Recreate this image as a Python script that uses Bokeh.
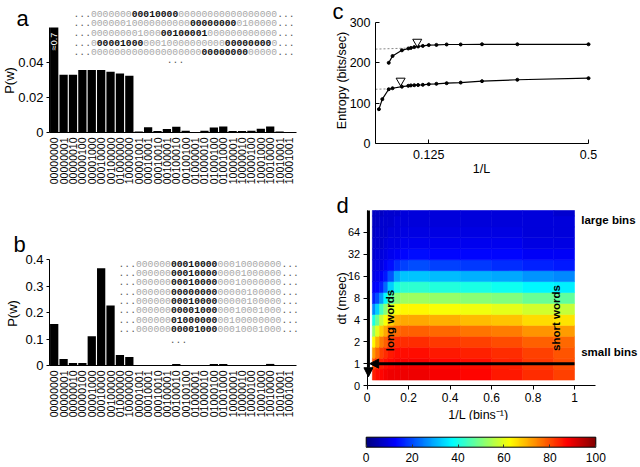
import math
import numpy as np
from bokeh.plotting import figure
from bokeh.layouts import row, column
from bokeh.models import (Range1d, FixedTicker, Label, Arrow, NormalHead,
                          LinearColorMapper, CustomJSTickFormatter, ColumnDataSource)
from bokeh.embed import file_html
from bokeh.resources import INLINE

FONT = "Liberation Sans"
MONO = "Liberation Mono"

# ---------------- data ----------------
words = ["00000000", "00000001", "00000010", "00000100", "00001000",
         "00010000", "00100000", "01000000", "10000000", "00001001",
         "00010001", "00010010", "00100001", "00100010", "00100100",
         "01000001", "01000010", "01000100", "01001000", "10000001",
         "10000010", "10000100", "10001000", "10010000", "10010001",
         "10001001"]
pw_a = [0.70, 0.0330, 0.0330, 0.0357, 0.0357, 0.0357, 0.0347, 0.0337, 0.0324,
        0.0006, 0.0030, 0.0008, 0.0020, 0.0033, 0.0010, 0.0001, 0.0010, 0.0029,
        0.0034, 0.0009, 0.0009, 0.0010, 0.0022, 0.0034, 0.0006, 0.0001]
pw_b = [0.157, 0.025, 0.009, 0.009, 0.110, 0.367, 0.226, 0.040, 0.032,
        0.0, 0.0, 0.0, 0.0, 0.006, 0.0, 0.0, 0.0, 0.006,
        0.006, 0.0, 0.0, 0.0, 0.0, 0.006, 0.0, 0.0]
pw_a_axis_top = 0.06
pw_a_break_label = "\u22480.7"

# spike-train rows: (text, highlighted)
spikes_a = [
    [("0000000", 0), ("00010000", 1), ("00000000000000000", 0)],
    [("00000010000000000", 0), ("00000000", 1), ("0100000", 0)],
    [("000000001000", 0), ("00100001", 1), ("000000000000", 0)],
    [("0", 0), ("00001000", 1), ("00010000000000", 0), ("00000000", 1), ("0", 0)],
    [("0000000000000000000", 0), ("00000000", 1), ("00000", 0)],
]
spikes_b = [
    [("000000", 0), ("00010000", 1), ("00010000000", 0)],
    [("000000", 0), ("00010000", 1), ("00001000000", 0)],
    [("000000", 0), ("00010000", 1), ("00010000000", 0)],
    [("000000", 0), ("00000000", 1), ("00000100000", 0)],
    [("000000", 0), ("00010000", 1), ("00000100000", 0)],
    [("000000", 0), ("00001000", 1), ("00010001000", 0)],
    [("000000", 0), ("01000000", 1), ("00100000000", 0)],
    [("000000", 0), ("00001000", 1), ("00010001000", 0)],
]

# panel c: entropy vs 1/L
invL_upper = [0.031, 0.040, 0.062, 0.077, 0.083, 0.091, 0.100, 0.111, 0.125,
              0.143, 0.167, 0.200, 0.250, 0.333, 0.500]
H_upper = [200, 217, 231, 235.5, 237, 239, 240.5, 242, 244,
           244.5, 245.5, 245.5, 246, 246, 246]
invL_lower = [0.008, 0.016, 0.031, 0.040, 0.062, 0.077, 0.083, 0.091, 0.100,
              0.111, 0.125, 0.143, 0.167, 0.200, 0.250, 0.333, 0.500]
H_lower = [85, 110, 134.5, 137, 141, 143, 144, 144.5, 145,
           145.5, 147, 148, 149.5, 151, 154.5, 158, 162]
extrap_upper_x = [0.0, 0.075]
extrap_upper_H = [234, 236.5]
extrap_lower_x = [0.0, 0.032]
extrap_lower_H = [134.5, 135.5]
marker_invL = [0.098, 0.059]
marker_H = [252, 155.5]

# panel d: information map, columns in 1/L, rows in log2(dt/msec)
col_left = [0.025, 0.04, 0.06, 0.08, 0.10, 0.13, 0.16, 0.20, 0.30, 0.45, 0.60, 0.75, 0.90]
col_right = [0.04, 0.06, 0.08, 0.10, 0.13, 0.16, 0.20, 0.30, 0.45, 0.60, 0.75, 0.90, 1.00]
log2dt_rows = [-0.5, 0.0, 0.5, 1.0, 1.5, 2.0, 2.5, 3.0, 3.5, 4.0, 4.5, 5.0, 5.5, 6.0, 6.5, 7.0]
info_cols = [
    [84, 80, 72, 63, 52, 40, 26, 16, 12, 10, 9, 8, 8, 7, 7, 7],
    [86, 83, 77, 70, 60, 48, 33, 20, 13, 11, 10, 9, 8, 8, 7, 7],
    [87, 85, 81, 75, 67, 57, 44, 28, 16, 12, 10, 9, 8, 8, 8, 7],
    [88, 86, 83, 78, 71, 62, 51, 37, 23, 15, 12, 10, 9, 8, 8, 8],
    [89, 87, 85, 81, 75, 67, 58, 46, 33, 21, 14, 11, 10, 9, 8, 8],
    [89, 88, 86, 83, 77, 70, 62, 51, 40, 29, 17, 12, 10, 9, 9, 8],
    [89, 88, 86, 83, 78, 71, 63, 53, 42, 32, 19, 13, 11, 10, 9, 9],
    [89, 88, 86, 83, 78, 71, 63, 53, 42, 32, 20, 14, 11, 10, 9, 9],
    [88, 87, 85, 82, 77, 70, 62, 52, 41, 31, 19, 13, 11, 10, 9, 9],
    [87, 86, 84, 81, 76, 69, 61, 51, 40, 30, 18, 13, 11, 10, 9, 9],
    [85, 84, 83, 80, 75, 68, 60, 50, 39, 29, 17, 13, 11, 10, 9, 9],
    [83, 82, 81, 78, 73, 66, 58, 48, 37, 27, 16, 12, 10, 9, 9, 9],
    [81, 80, 79, 77, 72, 65, 57, 47, 36, 26, 15, 12, 10, 9, 9, 8],
]
dt_ticks = [-1, 0, 1, 2, 3, 4, 5, 6]
dt_tick_labels = ["0", "1", "2", "4", "8", "16", "32", "64"]
invL_ticks_d = [0, 0.2, 0.4, 0.6, 0.8, 1.0]
cbar_ticks = [0, 20, 40, 60, 80, 100]
arrow_v = [0.006, 7.0, 0.006, -0.6]     # x0, y0, x1, y1
arrow_h = [1.0, 0.0, 0.012, 0.0]

# ---------------- helpers ----------------
def jet(n=256):
    cols = []
    for i in range(n):
        t = i / (n - 1)
        r = min(max(1.5 - abs(4 * t - 3), 0), 1)
        g = min(max(1.5 - abs(4 * t - 2), 0), 1)
        b = min(max(1.5 - abs(4 * t - 1), 0), 1)
        cols.append("#%02x%02x%02x" % (int(r * 255), int(g * 255), int(b * 255)))
    return cols

JS_FMT = "return String(tick);"

def frame_fig(w, h, fx, fy, x_at, y_at, xb, yb):
    """Figure whose frame fills the canvas; axes pinned inside it."""
    p = figure(width=w, height=h, x_range=Range1d(fx(0), fx(w)),
               y_range=Range1d(fy(h), fy(0)), output_backend="svg",
               toolbar_location=None, min_border=0)
    p.outline_line_color = None
    p.grid.visible = False
    p.background_fill_color = "white"
    p.border_fill_color = "white"
    p.xaxis.fixed_location = y_at
    p.yaxis.fixed_location = x_at
    p.xaxis.bounds = xb
    p.yaxis.bounds = yb
    for ax in p.axis:
        ax.axis_line_color = "black"
        ax.axis_line_width = 1
        ax.major_tick_line_color = "black"
        ax.minor_tick_line_color = None
        ax.major_label_text_font = FONT
        ax.major_label_text_color = "black"
    return p

def lab(p, x, y, text, size, angle=0.0, align="center", baseline="middle",
        bold=False, color="black", font=FONT, x_offset=0):
    p.add_layout(Label(x=x, y=y, text=text, text_font=font,
                       text_font_size=f"{size}px", angle=angle,
                       text_align=align, text_baseline=baseline,
                       text_font_style="bold" if bold else "normal",
                       text_color=color, x_offset=x_offset))

def spike_rows(p, x0, ys, rows, fs):
    cw = 0.6 * fs
    for y, segs in zip(ys, rows):
        pos = 0
        pieces = [("...", 2)] + list(segs) + [("...", 2)]
        for txt, hl in pieces:
            col = "#111111" if hl == 1 else ("#555555" if hl == 2 else "#a8a8a8")
            lab(p, x0, y, txt, fs, align="left", bold=(hl == 1), color=col,
                font=MONO, x_offset=pos * cw)
            pos += len(txt)

W_LEFT, W_RIGHT = 322, 316
bar_x = list(range(1, len(words) + 1))
overrides = {i + 1: w for i, w in enumerate(words)}
xa = lambda lx: 0.5 + (lx - 49) * 26.3 / 247

def bar_panel(h, fy, ytop, vals, yticks):
    p = frame_fig(W_LEFT, h, xa, fy, 0.5, 0, (0.5, 26.8), (0, ytop))
    shown = [min(v, ytop) for v in vals]
    p.vbar(x=bar_x, top=shown, width=0.88, fill_color="black", line_color=None)
    p.xaxis.ticker = FixedTicker(ticks=bar_x)
    p.xaxis.major_label_overrides = overrides
    p.xaxis.major_label_orientation = math.pi / 2
    p.xaxis.major_label_text_font_size = "10.5px"
    p.xaxis.major_tick_out = 0
    p.xaxis.major_tick_in = 0
    p.xaxis.major_label_standoff = 5
    p.yaxis.ticker = FixedTicker(ticks=yticks)
    p.yaxis.formatter = CustomJSTickFormatter(code=JS_FMT)
    p.yaxis.major_label_text_font_size = "13px"
    p.yaxis.major_tick_out = 3
    p.yaxis.major_tick_in = 0
    p.yaxis.major_label_standoff = 3
    return p

# ---------------- panel a ----------------
ya = lambda ly: 0.06 - (ly - 27) * 0.06 / 105
pa = bar_panel(225, ya, pw_a_axis_top, pw_a, [0, 0.02, 0.04])
lab(pa, xa(22), ya(18), "a", 22)
lab(pa, xa(9), ya(80), "P(w)", 13, angle=math.pi / 2)
lab(pa, 1, ya(41), pw_a_break_label, 9, angle=math.pi / 2, color="white")
spike_rows(pa, xa(73), [ya(v) for v in (13, 22.5, 32, 42, 51.5)], spikes_a, 9.7)
lab(pa, xa(175), ya(59), "...", 9.7, color="#555555", font=MONO)

# ---------------- panel b ----------------
yb = lambda ly: 0.4 - (ly - 34) * 0.4 / 106
pb = bar_panel(240, yb, 0.4, pw_b, [0, 0.1, 0.2, 0.3, 0.4])
lab(pb, xa(19), yb(19), "b", 22)
lab(pb, xa(12), yb(88), "P(w)", 13, angle=math.pi / 2)
spike_rows(pb, xa(118), [yb(v) for v in (38, 47.3, 56.7, 66, 75.3, 84.7, 94, 103.3)],
           spikes_b, 9.7)
lab(pb, xa(178), yb(114.5), "...", 9.7, color="#555555", font=MONO)

# ---------------- panel c ----------------
xc = lambda lx: (lx - 53) * 0.5 / 213
yc = lambda ly: 300 - (ly - 22) * 300 / 121
pc = frame_fig(W_RIGHT, 190, xc, yc, 0, 0, (0, 0.5), (0, 300))
pc.line(extrap_upper_x, extrap_upper_H, line_color="#888888", line_dash="2 2", line_width=1)
pc.line(extrap_lower_x, extrap_lower_H, line_color="#888888", line_dash="2 2", line_width=1)
pc.line(invL_upper, H_upper, line_color="black", line_width=1.2)
pc.line(invL_lower, H_lower, line_color="black", line_width=1.2)
pc.scatter(invL_upper, H_upper, size=3, color="black")
pc.scatter(invL_lower, H_lower, size=3, color="black")
pc.scatter(marker_invL, marker_H, marker="inverted_triangle", size=9,
           fill_color="white", line_color="black", line_width=1)
pc.xaxis.ticker = FixedTicker(ticks=[0.125, 0.5])
pc.yaxis.ticker = FixedTicker(ticks=[0, 100, 200, 300])
for ax in pc.axis:
    ax.formatter = CustomJSTickFormatter(code=JS_FMT)
    ax.major_label_text_font_size = "12.5px"
    ax.major_tick_in = 4
    ax.major_tick_out = 0
pc.yaxis.major_label_standoff = 5
pc.xaxis.major_label_standoff = 6
lab(pc, xc(15.5), yc(11), "c", 22)
lab(pc, xc(19.7), yc(80), "Entropy (bits/sec)", 12.5, angle=math.pi / 2)
lab(pc, xc(159), yc(168), "1/L", 12.5)

# ---------------- panel d ----------------
xd = lambda lx: (lx - 44.7) / 207.3
yd = lambda ly: 7 - (ly - 20) * 8 / 175
pd_ = frame_fig(W_RIGHT, 230, xd, yd, 0, -1, (0, 1.1), (-1, 7))
mapper = LinearColorMapper(palette=jet(), low=0, high=100)
L, R, B, T, V = [], [], [], [], []
for l, r, colv in zip(col_left, col_right, info_cols):
    for yc_, v in zip(log2dt_rows, colv):
        L.append(l); R.append(r)
        B.append(max(yc_ - 0.25, -0.75)); T.append(min(yc_ + 0.25, 7.0)); V.append(v)
src = ColumnDataSource(dict(left=L, right=R, bottom=B, top=T, info=V))
pd_.quad(left="left", right="right", bottom="bottom", top="top", source=src,
         fill_color={"field": "info", "transform": mapper},
         line_color={"field": "info", "transform": mapper}, line_width=0.6)
pd_.add_layout(Arrow(x_start=arrow_v[0], y_start=arrow_v[1], x_end=arrow_v[2], y_end=arrow_v[3],
                     line_width=3, line_color="black",
                     end=NormalHead(size=9, fill_color="black", line_color="black")))
pd_.add_layout(Arrow(x_start=arrow_h[0], y_start=arrow_h[1], x_end=arrow_h[2], y_end=arrow_h[3],
                     line_width=3, line_color="black",
                     end=NormalHead(size=9, fill_color="black", line_color="black")))
pd_.yaxis.ticker = FixedTicker(ticks=dt_ticks)
pd_.yaxis.major_label_overrides = dict(zip(dt_ticks, dt_tick_labels))
pd_.xaxis.ticker = FixedTicker(ticks=invL_ticks_d)
pd_.xaxis.formatter = CustomJSTickFormatter(code=JS_FMT)
for ax in pd_.axis:
    ax.major_label_text_font_size = "12px"
    ax.major_tick_out = 4
    ax.major_tick_in = 0
    ax.major_label_standoff = 3
pd_.yaxis.major_label_text_font_size = "11px"
lab(pd_, xd(20), yd(15), "d", 22)
lab(pd_, xd(19), yd(108), "dt (msec)", 12.5, angle=math.pi / 2)
lab(pd_, xd(156), yd(224), "1/L (bins\u207b\u00b9)", 12.5)
lab(pd_, xd(67), yd(130), "long words", 11.5, angle=math.pi / 2, bold=True)
lab(pd_, xd(233), yd(127.5), "short words", 11.5, angle=math.pi / 2, bold=True)
lab(pd_, xd(258.7), yd(29), "large bins", 11.5, align="left", bold=True)
lab(pd_, xd(258.7), yd(161.7), "small bins", 11.5, align="left", bold=True)

# ---------------- colour bar ----------------
xcb = lambda lx: (lx - 43.7) * 100 / 229.6
ycb = lambda ly: 1 - (ly - 16.7) / 10
pcb = frame_fig(W_RIGHT, 45, xcb, ycb, 0, 0, (0, 100), (0, 1))
ramp = np.linspace(0, 100, 256).reshape(1, -1)
pcb.image(image=[ramp], x=0, y=0, dw=100, dh=1, color_mapper=mapper)
pcb.quad(left=[0], right=[100], bottom=[0], top=[1], fill_color=None,
         line_color="black", line_width=1)
pcb.yaxis.visible = False
pcb.xaxis.ticker = FixedTicker(ticks=cbar_ticks)
pcb.xaxis.formatter = CustomJSTickFormatter(code=JS_FMT)
pcb.xaxis.major_label_text_font_size = "12px"
pcb.xaxis.major_tick_in = 3
pcb.xaxis.major_tick_out = 0
pcb.xaxis.major_tick_line_color = "#333333"
pcb.xaxis.axis_line_color = None
pcb.xaxis.major_label_standoff = 6

layout = row(column(pa, pb), column(pc, pd_, pcb))
open("out.html", "w").write(file_html(layout, INLINE))
